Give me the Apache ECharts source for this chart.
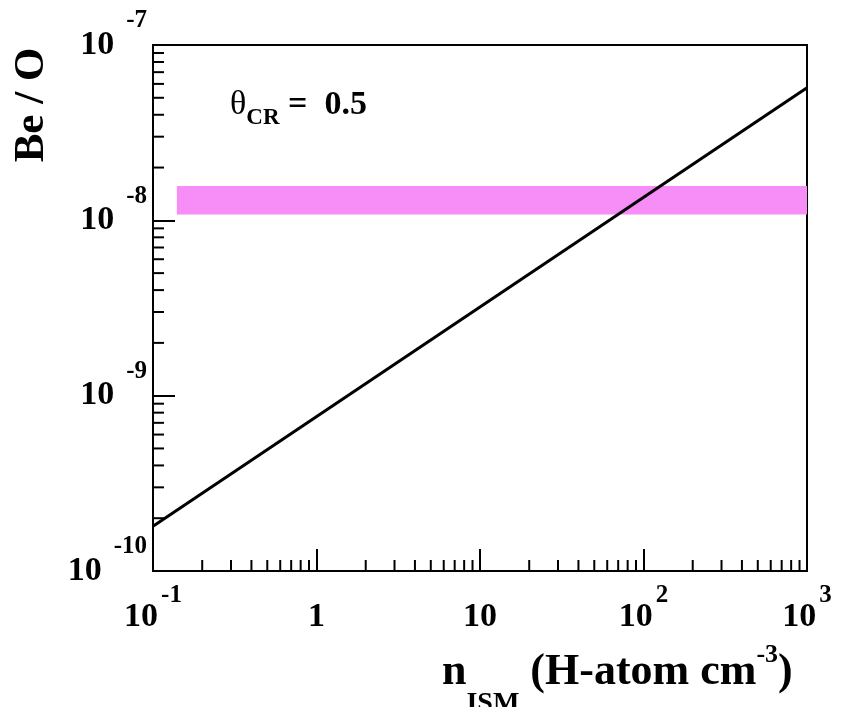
<!DOCTYPE html>
<html>
<head>
<meta charset="utf-8">
<script src="https://cdn.jsdelivr.net/npm/echarts@6/dist/echarts.min.js"></script>
<style>
    html, body { margin: 0; padding: 0; background: #fff; }
    #chart { width: 845px; height: 707px; }
</style>
</head>
<body>
<div id="chart"></div>
<script>
// data
var xRange = [0.1, 1000];
var yRange = [1e-10, 1e-7];
var lineX = [0.1, 1000];
var lineY = [1.8e-10, 5.7e-8];
var bandX = [0.14, 1000];
var bandY = [1.08e-8, 1.57e-8];

// tick labels: base and exponent
var xTickBase = ['10', '1', '10', '10', '10'];
var xTickExp = ['-1', '', '', '2', '3'];
var yTickBase = ['10', '10', '10', '10'];
var yTickExp = ['-10', '-9', '-8', '-7'];

// minor ticks (2..9 in each decade)
var minorMult = [2, 3, 4, 5, 6, 7, 8, 9];
var xDecades = [0.1, 1, 10, 100];
var yDecades = [1e-10, 1e-9, 1e-8];

var serif = '"Liberation Serif", "Times New Roman", serif';

var xMinor = [], yMinor = [];
xDecades.forEach(function (d) { minorMult.forEach(function (m) { xMinor.push([d * m, yRange[0]]); }); });
yDecades.forEach(function (d) { minorMult.forEach(function (m) { yMinor.push([xRange[0], d * m]); }); });

var chart = echarts.init(document.getElementById('chart'));

// "10" with a raised exponent; lh sets how far the exponent is lifted
function labelRich(lh, expPad) {
    return {
        b: { fontFamily: serif, fontWeight: 'bold', fontSize: 34, lineHeight: lh, color: '#000' },
        e: { fontFamily: serif, fontWeight: 'bold', fontSize: 25, lineHeight: 24, verticalAlign: 'top',
             padding: [0, 0, 0, expPad], color: '#000' }
    };
}

function fmt(bases, exps) {
    return function (value, index) {
        var s = '{b|' + bases[index] + '}';
        if (exps[index]) s += '{e|' + exps[index] + '}';
        return s;
    };
}

// short inside tick drawn at a data value
function tickItem(dir) {
    return function (params, api) {
        var p = api.coord([api.value(0), api.value(1)]);
        var shape = dir === 'x'
            ? { x1: p[0], y1: p[1], x2: p[0], y2: p[1] - 11 }
            : { x1: p[0], y1: p[1], x2: p[0] + 11, y2: p[1] };
        return { type: 'line', shape: shape, style: { stroke: '#000', lineWidth: 2 } };
    };
}

var option = {
    backgroundColor: '#fff',
    animation: false,
    grid: {
        left: 153, right: 38, top: 45, bottom: 136,
        show: true, borderColor: '#000', borderWidth: 2,
        outerBoundsMode: 'none'
    },
    xAxis: {
        type: 'log', logBase: 10,
        min: xRange[0], max: xRange[1],
        axisLine: { show: true, lineStyle: { color: '#000', width: 2 } },
        axisTick: { show: true, inside: true, length: 22, lineStyle: { color: '#000', width: 2 } },
        splitLine: { show: false },
        minorTick: { show: false },
        axisLabel: {
            margin: 46, verticalAlign: 'middle',
            showMinLabel: true, showMaxLabel: true, hideOverlap: false,
            formatter: fmt(xTickBase, xTickExp),
            rich: labelRich(68, 3)
        }
    },
    yAxis: {
        type: 'log', logBase: 10,
        min: yRange[0], max: yRange[1],
        axisLine: { show: true, lineStyle: { color: '#000', width: 2 } },
        axisTick: { show: true, inside: true, length: 22, lineStyle: { color: '#000', width: 2 } },
        splitLine: { show: false },
        minorTick: { show: false },
        axisLabel: {
            margin: 6,
            showMinLabel: true, showMaxLabel: true, hideOverlap: false,
            formatter: fmt(yTickBase, yTickExp),
            rich: labelRich(73, 12)
        }
    },
    graphic: [
        {
            type: 'text', x: 32, y: 105, rotation: Math.PI / 2,
            style: {
                text: 'Be / O', align: 'center', verticalAlign: 'middle',
                font: 'bold 43px ' + serif, fill: '#000'
            }
        },
        {
            type: 'text', x: 442, y: 673,
            style: {
                text: '{n|n}{s|ISM}{n| (H-atom cm}{p|-3}{n|)}',
                align: 'left', verticalAlign: 'middle',
                rich: {
                    n: { fontFamily: serif, fontWeight: 'bold', fontSize: 44, lineHeight: 100, fill: '#000' },
                    s: { fontFamily: serif, fontWeight: 'bold', fontSize: 28, verticalAlign: 'bottom',
                         padding: [0, 0, 5, 0], fill: '#000' },
                    p: { fontFamily: serif, fontWeight: 'bold', fontSize: 26, verticalAlign: 'top',
                         padding: [19, 0, 0, 0], fill: '#000' }
                }
            }
        },
        {
            type: 'text', x: 230, y: 105,
            style: {
                text: '{t|θ}{s|CR}{u| =  0.5}',
                align: 'left', verticalAlign: 'middle',
                rich: {
                    t: { fontFamily: serif, fontSize: 34, lineHeight: 50, fill: '#000' },
                    s: { fontFamily: serif, fontWeight: 'bold', fontSize: 23, lineHeight: 23, verticalAlign: 'bottom', fill: '#000' },
                    u: { fontFamily: serif, fontWeight: 'bold', fontSize: 34, lineHeight: 50, fill: '#000' }
                }
            }
        }
    ],
    series: [
        {
            type: 'line',
            data: [],
            z: 1,
            markArea: {
                silent: true,
                itemStyle: { color: '#f78ef7' },
                data: [[{ coord: [bandX[0], bandY[0]] }, { coord: [bandX[1], bandY[1]] }]]
            }
        },
        {
            type: 'line',
            data: lineX.map(function (x, i) { return [x, lineY[i]]; }),
            showSymbol: false, symbol: 'none',
            lineStyle: { color: '#000', width: 3 },
            z: 5
        },
        { type: 'custom', data: xMinor, renderItem: tickItem('x'), z: 6, silent: true },
        { type: 'custom', data: yMinor, renderItem: tickItem('y'), z: 6, silent: true }
    ]
};
chart.setOption(option);
</script>
</body>
</html>
